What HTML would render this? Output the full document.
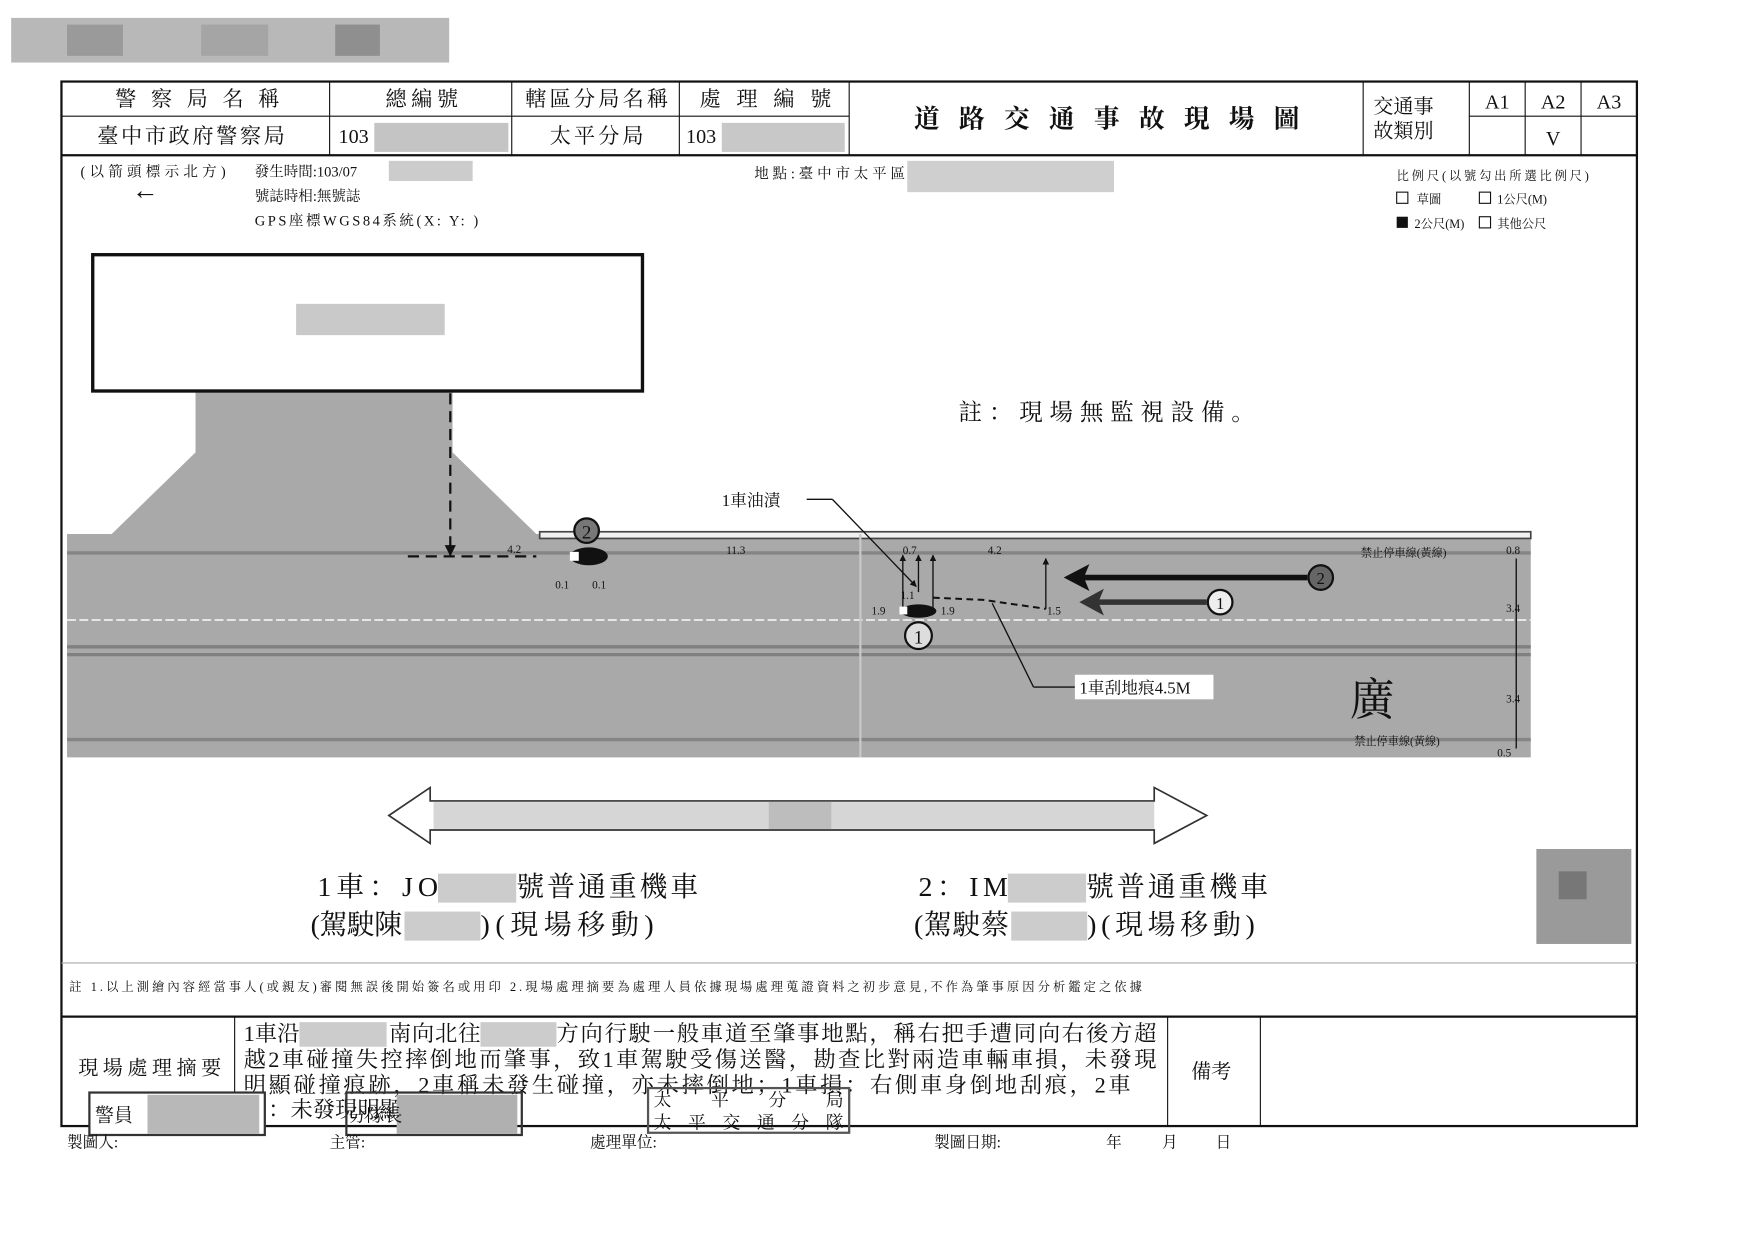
<!DOCTYPE html>
<html><head><meta charset="utf-8"><style>
html,body{margin:0;padding:0;background:#fff;}
svg{display:block}
text{font-family:"Liberation Serif","Noto Serif CJK SC","Noto Sans CJK TC",serif;fill:#111}
</style></head><body>
<svg width="1752" height="1240" viewBox="0 0 1568 1110" preserveAspectRatio="none" xmlns="http://www.w3.org/2000/svg">
<defs>
<marker id="ah" viewBox="0 0 10 10" refX="9" refY="5" markerWidth="5" markerHeight="5" orient="auto"><path d="M0,0L10,5L0,10z" fill="#111"/></marker>
</defs>
<rect x="10" y="16" width="392" height="40" fill="#b8b8b8"/>
<rect x="60" y="22" width="50" height="28" fill="#9a9a9a"/><rect x="180" y="22" width="60" height="28" fill="#a5a5a5"/><rect x="300" y="22" width="40" height="28" fill="#8f8f8f"/>

<g stroke="#111" fill="none">
<rect x="55" y="73" width="1410" height="935" stroke-width="2"/>
<line x1="55" y1="104" x2="760" y2="104"/>
<line x1="1315" y1="104" x2="1465" y2="104"/>
<line x1="55" y1="139" x2="1465" y2="139" stroke-width="2"/>
<line x1="295" y1="73" x2="295" y2="139"/><line x1="458" y1="73" x2="458" y2="139"/>
<line x1="608" y1="73" x2="608" y2="139"/><line x1="760" y1="73" x2="760" y2="139"/>
<line x1="1220" y1="73" x2="1220" y2="139"/><line x1="1315" y1="73" x2="1315" y2="139"/>
<line x1="1365" y1="73" x2="1365" y2="139"/><line x1="1415" y1="73" x2="1415" y2="139"/>
<line x1="55" y1="862" x2="1465" y2="862" stroke="#aaa"/>
<line x1="55" y1="910" x2="1465" y2="910" stroke-width="2"/>
<line x1="210" y1="910" x2="210" y2="1008"/><line x1="1045" y1="910" x2="1045" y2="1008"/><line x1="1128" y1="910" x2="1128" y2="1008"/>
</g>
<g font-size="19">
<text x="103" y="95" textLength="147">警察局名稱</text>
<text x="345" y="95" textLength="65">總編號</text>
<text x="470" y="95" textLength="128">轄區分局名稱</text>
<text x="626" y="95" textLength="118">處理編號</text>
<text x="87" y="128" textLength="168">臺中市政府警察局</text>
<text x="492" y="128" textLength="84">太平分局</text>
</g>
<g font-size="18" text-anchor="middle">
<text x="1340" y="97">A1</text><text x="1390" y="97">A2</text><text x="1440" y="97">A3</text>
<text x="1390" y="130">V</text>
</g>
<text x="303" y="128" font-size="18">103</text><rect x="335" y="110" width="120" height="26" fill="#c4c4c4"/>
<text x="614" y="128" font-size="18">103</text><rect x="646" y="110" width="110" height="26" fill="#c8c8c8"/>
<text x="818" y="114" font-size="23" textLength="345" font-weight="bold">道路交通事故現場圖</text>
<text x="1229" y="101" font-size="18">交通事</text><text x="1229" y="123" font-size="18">故類別</text>

<g font-size="13">
<text x="72" y="158" textLength="130">(以箭頭標示北方)</text>
<text x="228" y="158">發生時間:103/07</text><rect x="348" y="144" width="75" height="18" fill="#ccc"/>
<text x="228" y="180">號誌時相:無號誌</text>
<text x="228" y="202" textLength="200">GPS座標WGS84系統(X:  Y: )</text>
<text x="675" y="160" textLength="135">地點:臺中市太平區</text><rect x="812" y="144" width="185" height="28" fill="#cfcfcf"/>
</g>
<text x="118" y="178" font-size="24">←</text>
<g font-size="11">
<text x="1250" y="161" textLength="172">比例尺(以號勾出所選比例尺)</text>
<rect x="1250" y="172" width="10" height="10" fill="none" stroke="#111"/><text x="1268" y="182">草圖</text>
<rect x="1324" y="172" width="10" height="10" fill="none" stroke="#111"/><text x="1340" y="182">1公尺(M)</text>
<rect x="1250" y="194" width="10" height="10" fill="#111"/><text x="1266" y="204">2公尺(M)</text>
<rect x="1324" y="194" width="10" height="10" fill="none" stroke="#111"/><text x="1340" y="204">其他公尺</text>
</g>

<path d="M60,478 L100,478 L175,405 L175,350 L405,350 L405,405 L480,478 L1370,478 L1370,678 L60,678 Z" fill="#a9a9a9"/>
<rect x="83" y="228" width="492" height="122" fill="#fff" stroke="#111" stroke-width="3"/>
<rect x="265" y="272" width="133" height="28" fill="#c9c9c9"/>
<rect x="483" y="476" width="887" height="6" fill="#f0f0f0" stroke="#444" stroke-width="1.5"/>
<line x1="60" y1="495" x2="1370" y2="495" stroke="#858585" stroke-width="3"/>
<line x1="60" y1="555" x2="1370" y2="555" stroke="#eee" stroke-width="1.5" stroke-dasharray="8,3"/>
<line x1="60" y1="579" x2="1370" y2="579" stroke="#808080" stroke-width="3"/>
<line x1="60" y1="586" x2="1370" y2="586" stroke="#808080" stroke-width="3"/>
<line x1="60" y1="662" x2="1370" y2="662" stroke="#858585" stroke-width="3"/>
<line x1="770" y1="478" x2="770" y2="678" stroke="#c8c8c8" stroke-width="2"/>
<line x1="403" y1="352" x2="403" y2="497" stroke="#111" stroke-width="2" stroke-dasharray="10,6" marker-end="url(#ah)"/>
<line x1="365" y1="498" x2="480" y2="498" stroke="#111" stroke-width="2" stroke-dasharray="10,6"/>
<ellipse cx="527" cy="498" rx="17" ry="8" fill="#111"/><rect x="510" y="494" width="8" height="8" fill="#fff"/>
<circle cx="525" cy="475" r="11" fill="#777" stroke="#111" stroke-width="2"/><text x="525" y="482" font-size="17" text-anchor="middle" fill="#fff">2</text>
<g font-size="10"><text x="454" y="495">4.2</text><text x="497" y="527">0.1</text><text x="530" y="527">0.1</text>
<text x="650" y="496">11.3</text><text x="808" y="496">0.7</text><text x="884" y="496">4.2</text>
<text x="806" y="536">1.1</text><text x="780" y="550">1.9</text><text x="842" y="550">1.9</text><text x="937" y="550">1.5</text>
<text x="1348" y="496">0.8</text><text x="1348" y="548">3.4</text><text x="1348" y="629">3.4</text><text x="1340" y="677">0.5</text>
<text x="1218" y="498">禁止停車線(黃線)</text><text x="1212" y="667">禁止停車線(黃線)</text></g>
<g stroke="#111" stroke-width="1.2" fill="none">
<line x1="808" y1="545" x2="808" y2="497" marker-end="url(#ah)"/><line x1="822" y1="530" x2="822" y2="497" marker-end="url(#ah)"/>
<line x1="835" y1="545" x2="835" y2="497" marker-end="url(#ah)"/><line x1="936" y1="545" x2="936" y2="500" marker-end="url(#ah)"/>
<path d="M835,535 L880,537 L936,545" stroke-dasharray="6,4" stroke-width="1.8"/>
<line x1="722" y1="447" x2="745" y2="447"/><line x1="745" y1="447" x2="820" y2="525" marker-end="url(#ah)"/>
<line x1="888" y1="540" x2="925" y2="615"/><line x1="925" y1="615" x2="962" y2="615"/>
<line x1="1357" y1="500" x2="1357" y2="670"/>
</g>
<ellipse cx="822" cy="547" rx="16" ry="6" fill="#111"/><rect x="805" y="543" width="7" height="7" fill="#fff"/>
<circle cx="822" cy="569" r="12" fill="#ddd" stroke="#111" stroke-width="2"/><text x="822" y="576" font-size="17" text-anchor="middle">1</text>
<text x="646" y="453" font-size="15">1車油漬</text>
<rect x="962" y="604" width="124" height="22" fill="#fff"/><text x="966" y="621" font-size="15">1車刮地痕4.5M</text>
<line x1="1170" y1="517" x2="965" y2="517" stroke="#111" stroke-width="5"/><path d="M952,517 L975,505 L970,517 L975,529Z" fill="#111"/>
<circle cx="1182" cy="517" r="11" fill="#666" stroke="#111" stroke-width="2"/><text x="1182" y="523" font-size="15" text-anchor="middle" fill="#fff">2</text>
<line x1="1080" y1="539" x2="980" y2="539" stroke="#333" stroke-width="5"/><path d="M966,539 L988,527 L983,539 L988,551Z" fill="#333"/>
<circle cx="1092" cy="539" r="11" fill="#eee" stroke="#111" stroke-width="2"/><text x="1092" y="545" font-size="15" text-anchor="middle">1</text>
<text x="1208" y="640" font-size="40" fill="#f2f2f2">廣</text>
<text x="858" y="376" font-size="21" textLength="265">註：現場無監視設備。</text>
<path d="M348,730 L385,705 L385,717 L1033,717 L1033,705 L1080,730 L1033,755 L1033,743 L385,743 L385,755 Z" fill="#fff" stroke="#333" stroke-width="1.5"/>
<rect x="388" y="718" width="645" height="24" fill="#d6d6d6"/><rect x="688" y="718" width="56" height="24" fill="#bdbdbd"/>
<g font-size="25">
<text x="284" y="802" textLength="108">1車：JO</text><rect x="392" y="782" width="70" height="26" fill="#ccc"/><text x="462" y="802" textLength="163">號普通重機車</text>
<text x="278" y="836" textLength="82">(駕駛陳</text><rect x="362" y="816" width="68" height="26" fill="#ccc"/><text x="430" y="836" textLength="155">)(現場移動)</text>
<text x="822" y="802" textLength="80">2：IM</text><rect x="902" y="782" width="70" height="26" fill="#ccc"/><text x="972" y="802" textLength="163">號普通重機車</text>
<text x="818" y="836" textLength="85">(駕駛蔡</text><rect x="905" y="816" width="68" height="26" fill="#ccc"/><text x="973" y="836" textLength="150">)(現場移動)</text>
</g>
<rect x="1375" y="760" width="85" height="85" fill="#9a9a9a"/><rect x="1395" y="780" width="25" height="25" fill="#777"/>
<text x="62" y="887" font-size="11" textLength="960">註  1.以上測繪內容經當事人(或親友)審閱無誤後開始簽名或用印   2.現場處理摘要為處理人員依據現場處理蒐證資料之初步意見,不作為肇事原因分析鑑定之依據</text>
<text x="70" y="962" font-size="18" textLength="128">現場處理摘要</text>
<g font-size="20">
<text x="218" y="932" textLength="50">1車沿</text><rect x="268" y="915" width="78" height="22" fill="#ccc"/><text x="348" y="932" textLength="82">南向北往</text><rect x="430" y="915" width="68" height="22" fill="#ccc"/><text x="498" y="932" textLength="537">方向行駛一般車道至肇事地點，稱右把手遭同向右後方超</text>
<text x="218" y="955" textLength="817">越2車碰撞失控摔倒地而肇事，致1車駕駛受傷送醫，勘查比對兩造車輛車損，未發現</text>
<text x="218" y="978" textLength="794">明顯碰撞痕跡，2車稱未發生碰撞，亦未摔倒地；1車損：右側車身倒地刮痕，2車</text>
<text x="240" y="1000">：未發現明顯</text>
</g>
<text x="1066" y="965" font-size="18">備考</text>
<rect x="80" y="978" width="157" height="38" fill="#fff" stroke="#333" stroke-width="2"/><text x="85" y="1004" font-size="17" fill="#666">警員</text><rect x="132" y="980" width="100" height="35" fill="#b8b8b8"/>
<rect x="310" y="978" width="157" height="38" fill="none" stroke="#333" stroke-width="2"/><rect x="355" y="980" width="108" height="35" fill="#b0b0b0"/><text x="312" y="1004" font-size="16" fill="#666">分隊長</text>
<rect x="580" y="974" width="180" height="40" fill="none" stroke="#555" stroke-width="2"/>
<text x="585" y="990" font-size="16" fill="#666" textLength="170">太平分局</text><text x="585" y="1010" font-size="16" fill="#666" textLength="170">太平交通分隊</text>
<g font-size="14">
<text x="60" y="1027">製圖人:</text><text x="295" y="1027">主管:</text><text x="528" y="1027">處理單位:</text>
<text x="836" y="1027">製圖日期:</text><text x="990" y="1027">年</text><text x="1040" y="1027">月</text><text x="1088" y="1027">日</text>
</g>
</svg>
</body></html>
